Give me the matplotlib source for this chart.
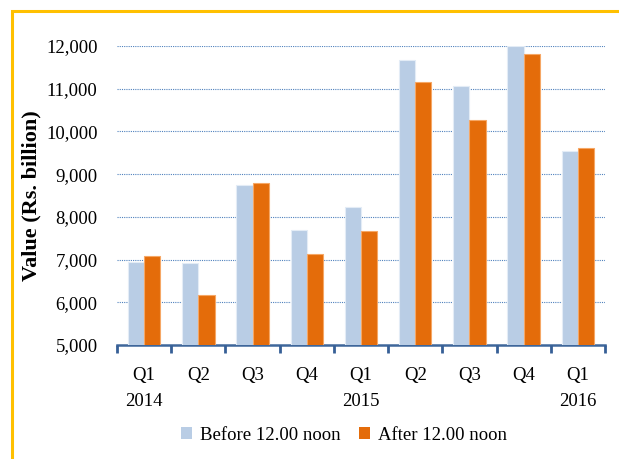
import matplotlib
matplotlib.use("Agg")
import matplotlib.pyplot as plt
import matplotlib.transforms as mtransforms
import numpy as np
from matplotlib.patches import Rectangle, Patch

categories = ["Q1\n2014", "Q2", "Q3", "Q4", "Q1\n2015", "Q2", "Q3", "Q4", "Q1\n2016"]
before_noon = [6950, 6920, 8740, 7700, 8240, 11670, 11060, 11990, 9550]
after_noon = [7080, 6170, 8800, 7140, 7660, 11150, 10270, 11810, 9620]
yticks = [5000, 6000, 7000, 8000, 9000, 10000, 11000, 12000]

plt.rcParams['font.family'] = ['Liberation Serif', 'DejaVu Serif']

fig = plt.figure(figsize=(6.19, 4.59), dpi=100)
ax = fig.add_axes([117/619, 1-345/459, (605-117)/619, (345-46)/459])

x = np.arange(len(categories))
w = 0.30
c_before = "#B9CDE5"
c_after = "#E46C0A"
ax.bar(x - w/2, before_noon, w, color=c_before, edgecolor="#E3ECF6", linewidth=0.8, zorder=3,
       label="Before 12.00 noon")
ax.bar(x + w/2, after_noon, w, color=c_after, edgecolor="#F6A765", linewidth=0.8, zorder=3,
       label="After 12.00 noon")

ax.set_xlim(-0.5, len(categories) - 0.5)
ax.set_ylim(5000, 12000)
ax.set_yticks(yticks)
ax.set_yticklabels([f"{v:,}" for v in yticks], fontsize=13.5)
ax.tick_params(axis='y', length=0, pad=14)
for v in yticks[1:]:
    ax.axhline(v, color="#4F81BD", linestyle=(0, (1, 1)), linewidth=0.8, zorder=1)

ax.set_xticks(x)
ax.set_xticklabels(categories, fontsize=13.5, linespacing=1.7, va='top')
ax.tick_params(axis='x', length=0, pad=16)

# boundary tick marks below the axis
trans = mtransforms.blended_transform_factory(ax.transData, ax.transAxes)
ax.vlines(np.arange(-0.5, len(categories)), -0.026, 0, transform=trans, colors="#365F96",
          linewidth=2.0, clip_on=False, zorder=5)

for s in ['top', 'right', 'left']:
    ax.spines[s].set_visible(False)
ax.spines['bottom'].set_color("#3F679B")
ax.spines['bottom'].set_linewidth(1.8)

ax.set_ylabel("Value (Rs. billion)", fontsize=16, fontweight='bold', labelpad=3)

handles = [Patch(facecolor=c_before, edgecolor='none'), Patch(facecolor=c_after, edgecolor='none')]
fig.legend(handles, ["Before 12.00 noon", "After 12.00 noon"], loc='center',
           bbox_to_anchor=(344/619, 1-435/459), ncol=2, frameon=False, fontsize=13.5,
           handlelength=0.6, handleheight=0.6, handletextpad=0.4, columnspacing=1.0)

# gold frame
fig.patches.append(Rectangle((11.5/619, -0.1), 1.2, 1 - 11.5/459 + 0.1, transform=fig.transFigure,
                             fill=False, edgecolor="#FFC000", linewidth=2.2))

fig.savefig("out.png", dpi=100)
